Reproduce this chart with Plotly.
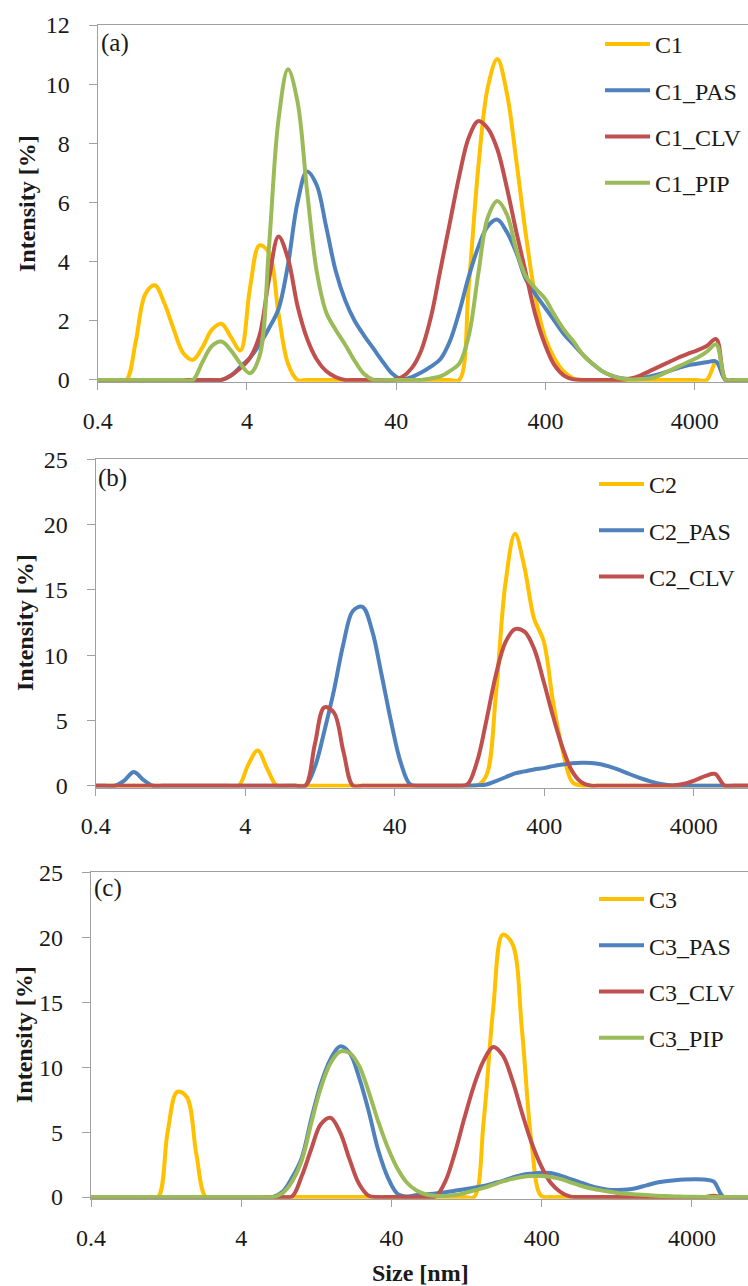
import plotly.graph_objects as go

# Standard DLS size bins (nm)
size_nm = [0.4, 0.4632, 0.5365, 0.6213, 0.7195, 0.8332, 0.9649, 1.117, 1.294, 1.499,
           1.736, 2.010, 2.328, 2.696, 3.122, 3.615, 4.187, 4.849, 5.615, 6.503,
           7.531, 8.721, 10.10, 11.70, 13.54, 15.69, 18.17, 21.04, 24.36, 28.21,
           32.67, 37.84, 43.82, 50.75, 58.77, 68.06, 78.82, 91.28, 105.7, 122.4,
           141.8, 164.2, 190.1, 220.2, 255.0, 295.3, 342.0, 396.1, 458.7, 531.2,
           615.1, 712.4, 825.0, 955.4, 1106, 1281, 1484, 1718, 1990, 2305,
           2669, 3091, 3580, 4145, 4801, 5560, 6439, 7456, 8635, 10000]

# ---- panel (a)
C1 = [0, 0, 0, 0, 1.3, 2.9, 3.2, 2.6, 1.7, 0.9,
      0.68, 1.1, 1.7, 1.9, 1.45, 1.0, 3.1, 4.55, 4.3, 2.25,
      0.55, 0, 0, 0, 0, 0, 0, 0, 0, 0,
      0, 0, 0, 0, 0, 0, 0, 0, 0, 3.2,
      7.2, 9.9, 10.85, 9.7, 7.4, 4.9, 2.8, 1.45, 0.73, 0.28,
      0.05, 0, 0, 0, 0, 0, 0, 0, 0, 0,
      0, 0, 0, 0, 0, 0.6, 0, 0, 0, 0]
C1_PAS = [0, 0, 0, 0, 0, 0, 0, 0, 0, 0,
          0, 0, 0, 0, 0.15, 0.45, 0.75, 1.2, 1.75, 2.4,
          3.9, 6.0, 7.05, 6.6, 5.2, 3.7, 2.7, 2.0, 1.5, 1.05,
          0.6, 0.2, 0.02, 0.1, 0.25, 0.45, 0.7, 1.3, 2.3, 3.5,
          4.5, 5.2, 5.42, 5.0, 4.3, 3.4, 2.9, 2.45, 2.0, 1.55,
          1.2, 0.85, 0.55, 0.3, 0.15, 0.06, 0.03, 0.05, 0.12, 0.2,
          0.3, 0.4, 0.5, 0.55, 0.6, 0.62, 0, 0, 0, 0]
C1_CLV = [0, 0, 0, 0, 0, 0, 0, 0, 0, 0,
          0, 0, 0, 0, 0.15, 0.4, 0.75, 1.5, 3.4, 4.85,
          4.1, 2.5, 1.4, 0.7, 0.3, 0.1, 0, 0, 0, 0,
          0, 0, 0.1, 0.4, 1.0, 2.1, 3.7, 5.3, 6.9, 8.2,
          8.75, 8.5, 7.8, 6.5, 5.0, 3.6, 2.2, 1.2, 0.5, 0.15,
          0.02, 0, 0, 0, 0, 0, 0.05, 0.15, 0.3, 0.45,
          0.6, 0.75, 0.88, 1.0, 1.15, 1.38, 0, 0, 0, 0]
C1_PIP = [0, 0, 0, 0, 0, 0, 0, 0, 0, 0,
          0, 0.6, 1.15, 1.3, 1.0, 0.55, 0.23, 0.8, 4.5, 8.8,
          10.5, 9.4, 6.4, 3.7, 2.3, 1.7, 1.2, 0.65, 0.2, 0,
          0, 0, 0, 0, 0, 0.05, 0.12, 0.3, 0.55, 1.5,
          3.6, 5.5, 6.05, 5.6, 4.4, 3.5, 3.1, 2.75, 2.2, 1.7,
          1.3, 0.85, 0.55, 0.3, 0.15, 0.05, 0.02, 0.03, 0.05, 0.15,
          0.3, 0.45, 0.6, 0.75, 0.95, 1.2, 0, 0, 0, 0]

# ---- panel (b)
C2 = [0, 0, 0, 0, 0, 0, 0, 0, 0, 0,
      0, 0, 0, 0, 0, 0, 1.6, 2.7, 1.3, 0,
      0, 0, 0, 0, 0, 0, 0, 0, 0, 0,
      0, 0, 0, 0, 0, 0, 0, 0, 0, 0,
      0, 0.8, 7.0, 15.5, 19.3, 16.7, 12.8, 11.1, 6.4, 2.7,
      0.3, 0, 0, 0, 0, 0, 0, 0, 0, 0,
      0, 0, 0, 0, 0, 0, 0, 0, 0, 0]
C2_PAS = [0, 0, 0, 0.4, 1.05, 0.45, 0, 0, 0, 0,
          0, 0, 0, 0, 0, 0, 0, 0, 0, 0,
          0, 0, 0, 1.45, 4.2, 7.3, 10.9, 13.4, 13.7, 11.9,
          8.5, 4.9, 1.8, 0.1, 0, 0, 0, 0, 0, 0,
          0.03, 0.1, 0.35, 0.65, 0.95, 1.1, 1.25, 1.35, 1.5, 1.62,
          1.72, 1.76, 1.75, 1.65, 1.45, 1.2, 0.9, 0.62, 0.38, 0.18,
          0.06, 0, 0, 0, 0, 0, 0, 0, 0, 0]
C2_CLV = [0, 0, 0, 0, 0, 0, 0, 0, 0, 0,
          0, 0, 0, 0, 0, 0, 0, 0, 0, 0,
          0, 0, 0, 3.2, 6.0, 5.6, 2.6, 0, 0, 0,
          0, 0, 0, 0, 0, 0, 0, 0, 0, 0.1,
          1.8, 5.0, 8.5, 11.0, 12.0, 11.8, 10.5, 8.0, 5.3, 2.9,
          1.1, 0.25, 0, 0, 0, 0, 0, 0, 0, 0,
          0, 0.05, 0.2, 0.45, 0.75, 0.9, 0, 0, 0, 0]

# ---- panel (c)
C3 = [0, 0, 0, 0, 0, 0, 0, 0, 5.0, 8.1,
      7.7, 3.3, 0, 0, 0, 0, 0, 0, 0, 0,
      0, 0, 0, 0, 0, 0, 0, 0, 0, 0,
      0, 0, 0, 0, 0, 0, 0, 0, 0, 0,
      0, 5.8, 14.5, 20.2, 19.5, 12.9, 4.2, 0.1, 0, 0,
      0, 0, 0, 0, 0, 0, 0, 0, 0, 0,
      0, 0, 0, 0, 0, 0, 0, 0, 0, 0]
C3_PAS = [0, 0, 0, 0, 0, 0, 0, 0, 0, 0,
          0, 0, 0, 0, 0, 0, 0, 0, 0, 0,
          0.4, 1.5, 3.0, 6.0, 8.7, 10.6, 11.6, 11.1, 9.2, 6.6,
          3.6, 1.5, 0.25, 0.05, 0.15, 0.22, 0.28, 0.38, 0.48, 0.6,
          0.72, 0.85, 1.05, 1.25, 1.5, 1.7, 1.8, 1.87, 1.85, 1.65,
          1.4, 1.15, 0.9, 0.7, 0.57, 0.55, 0.58, 0.7, 0.9, 1.1,
          1.22, 1.3, 1.35, 1.37, 1.35, 1.2, 0.05, 0, 0, 0]
C3_CLV = [0, 0, 0, 0, 0, 0, 0, 0, 0, 0,
          0, 0, 0, 0, 0, 0, 0, 0, 0, 0,
          0, 0.05, 1.6, 3.7, 5.6, 6.1, 5.0, 2.9, 1.0, 0.1,
          0, 0, 0, 0, 0, 0, 0.05, 1.2, 3.4, 6.1,
          8.6, 10.5, 11.55, 10.9, 9.0, 6.5, 4.2, 2.4, 1.1, 0.4,
          0.05, 0, 0, 0, 0, 0, 0, 0, 0, 0,
          0, 0, 0, 0, 0, 0.1, 0, 0, 0, 0]
C3_PIP = [0, 0, 0, 0, 0, 0, 0, 0, 0, 0,
          0, 0, 0, 0, 0, 0, 0, 0, 0, 0,
          0.3, 1.2, 2.8, 5.7, 8.4, 10.3, 11.2, 11.1, 10.1, 8.1,
          5.8, 3.8, 2.2, 1.1, 0.5, 0.2, 0.1, 0.08, 0.15, 0.3,
          0.5, 0.7, 0.95, 1.2, 1.4, 1.55, 1.62, 1.62, 1.55, 1.4,
          1.15, 0.9, 0.7, 0.55, 0.42, 0.32, 0.25, 0.2, 0.15, 0.1,
          0.08, 0.05, 0.03, 0.02, 0.01, 0, 0, 0, 0, 0]

tick_vals = [0.4, 4, 40, 400, 4000]
tick_text = ["0.4", "4", "40", "400", "4000"]

colors = {"base": "#FFC000", "PAS": "#4F81BD", "CLV": "#C0504D", "PIP": "#9BBB59"}
FONT = "Liberation Serif"
TXT = "#1a1a1a"
AXC = "#A0A0A0"

panels = [
    ("x", "y", "legend", [("C1", C1, "base"), ("C1_PAS", C1_PAS, "PAS"),
                          ("C1_CLV", C1_CLV, "CLV"), ("C1_PIP", C1_PIP, "PIP")]),
    ("x2", "y2", "legend2", [("C2", C2, "base"), ("C2_PAS", C2_PAS, "PAS"),
                             ("C2_CLV", C2_CLV, "CLV")]),
    ("x3", "y3", "legend3", [("C3", C3, "base"), ("C3_PAS", C3_PAS, "PAS"),
                             ("C3_CLV", C3_CLV, "CLV"), ("C3_PIP", C3_PIP, "PIP")]),
]

fig = go.Figure()
for xa, ya, lg, series in panels:
    for name, vals, key in series:
        fig.add_trace(go.Scatter(
            x=size_nm, y=vals, name=name, mode="lines",
            line=dict(color=colors[key], width=4, shape="spline", smoothing=1.0),
            xaxis=xa, yaxis=ya, legend=lg, legendgroup=name))

W, H = 748, 1286


def xdom(left_px):
    return [left_px / W, 1.0]


def ydom(top_px, bottom_px):
    return [1 - bottom_px / H, 1 - top_px / H]


def xaxis(dom, xmax_log, anchor):
    return dict(type="log", domain=dom, range=[-0.39794, xmax_log], anchor=anchor,
                automargin=False,
                tickvals=tick_vals, ticktext=tick_text, showline=True, linecolor=AXC,
                linewidth=1.3, mirror=True, ticks="outside", ticklen=7, tickcolor=AXC,
                tickwidth=1.3, showgrid=False, zeroline=False, ticklabelstandoff=10,
                tickfont=dict(family=FONT, size=24, color=TXT))


def yaxis(dom, ymin, ymax, dtick, anchor):
    return dict(domain=dom, range=[ymin, ymax], dtick=dtick, anchor=anchor,
                automargin=False,
                showline=True, linecolor=AXC, linewidth=1.3, ticks="outside",
                ticklen=8, tickcolor=AXC, tickwidth=1.3, showgrid=False,
                zeroline=False, ticklabelstandoff=14,
                tickfont=dict(family=FONT, size=24, color=TXT))


def legend(top_px, left_px):
    return dict(x=left_px / W, y=1 - top_px / H, xanchor="left", yanchor="top",
                bgcolor="rgba(0,0,0,0)", tracegroupgap=12, itemwidth=45,
                font=dict(family=FONT, size=24, color=TXT))


def label(text, x_px, y_px, size=25, bold=False, angle=0):
    return dict(text=("<b>%s</b>" % text) if bold else text,
                x=x_px / W, y=1 - y_px / H, xref="paper", yref="paper",
                xanchor="center" if angle or bold else "left", yanchor="middle",
                textangle=angle, showarrow=False,
                font=dict(family=FONT, size=size, color=TXT))


fig.update_layout(
    width=W, height=H, margin=dict(l=0, r=0, t=0, b=0, autoexpand=False),
    paper_bgcolor="white", plot_bgcolor="white", showlegend=True,
    xaxis=xaxis(xdom(97.7), 3.958, "y"),
    yaxis=yaxis(ydom(25, 381.75), -0.06, 12, 2, "x"),
    xaxis2=xaxis(xdom(95.7), 3.965, "y2"),
    yaxis2=yaxis(ydom(459.3, 787.5), -0.135, 25, 5, "x2"),
    xaxis3=xaxis(xdom(91), 3.975, "y3"),
    yaxis3=yaxis(ydom(872.3, 1198.8), -0.135, 25, 5, "x3"),
    legend=legend(22, 600),
    legend2=legend(462, 594),
    legend3=legend(877, 594),
    annotations=[
        label("(a)", 99, 43),
        label("(b)", 96, 478),
        label("(c)", 92, 888),
        label("Intensity [%]", 27, 204, size=24, bold=True, angle=-90),
        label("Intensity [%]", 25, 623, size=24, bold=True, angle=-90),
        label("Intensity [%]", 24, 1035, size=24, bold=True, angle=-90),
        label("Size [nm]", 420, 1273, size=24, bold=True),
    ],
)

fig.write_html("out.html",
               config={"displayModeBar": False},
               post_script="document.body.style.margin='0';"
                           "document.body.style.overflow='hidden';")
